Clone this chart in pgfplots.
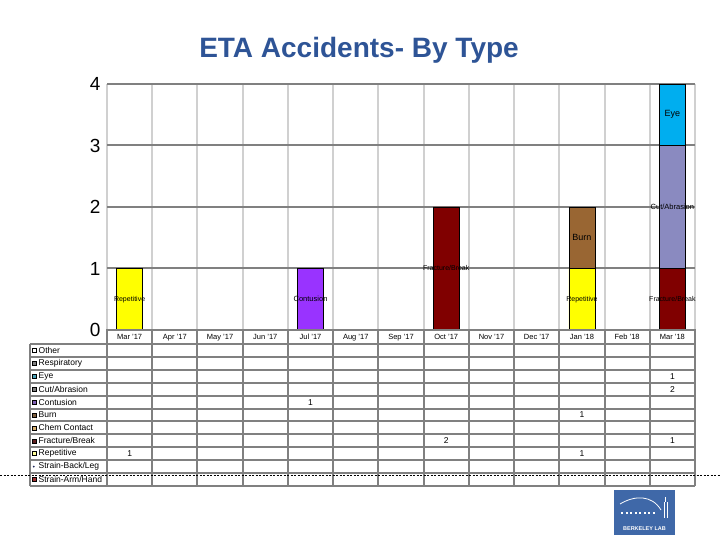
\documentclass[border=0pt]{standalone}
\usepackage{fontspec}
\setmainfont{Liberation Sans}
\usepackage{pgfplots}
\usepackage{pgfplotstable}
\pgfplotsset{compat=1.18}
\definecolor{titleblue}{RGB}{46,84,150}
\definecolor{gridDark}{RGB}{128,128,128}
\definecolor{gridLight}{RGB}{208,208,208}
\definecolor{tableGray}{RGB}{128,128,128}
\definecolor{cRep}{RGB}{255,255,0}
\definecolor{cCont}{RGB}{153,51,255}
\definecolor{cFrac}{RGB}{128,0,0}
\definecolor{cBurn}{RGB}{153,102,51}
\definecolor{cCut}{RGB}{138,138,192}
\definecolor{cEye}{RGB}{0,174,239}
\definecolor{logoblue}{RGB}{63,104,168}
% legend icon colours
\definecolor{lOther}{RGB}{255,255,255}
\definecolor{lResp}{RGB}{128,128,128}
\definecolor{lEye}{RGB}{75,163,184}
\definecolor{lCut}{RGB}{127,127,127}
\definecolor{lCont}{RGB}{127,95,179}
\definecolor{lBurn}{RGB}{127,96,64}
\definecolor{lChem}{RGB}{216,176,112}
\definecolor{lFrac}{RGB}{96,32,32}
\definecolor{lRep}{RGB}{255,255,153}
\definecolor{lSBL}{RGB}{31,40,90}
\definecolor{lSAH}{RGB}{160,48,48}

\pgfplotstableread{
month Rep Frac Burn Cont Cut Eye
0  1 0 0 0 0 0
1  0 0 0 0 0 0
2  0 0 0 0 0 0
3  0 0 0 0 0 0
4  0 0 0 1 0 0
5  0 0 0 0 0 0
6  0 0 0 0 0 0
7  0 2 0 0 0 0
8  0 0 0 0 0 0
9  0 0 0 0 0 0
10 1 0 1 0 0 0
11 0 0 0 0 0 0
12 0 1 0 0 2 1
}\datatable

\begin{document}
\begin{tikzpicture}[x=1pt,y=1pt]
\path[use as bounding box] (0,0) rectangle (720,540);
\node[font=\fontsize{28}{33}\selectfont\bfseries, text=titleblue] at (359,490) {ETA Accidents- By Type};
\begin{axis}[
  at={(107pt,210pt)}, anchor=south west,
  scale only axis, width=588pt, height=246pt,
  xmin=-0.5, xmax=12.5, ymin=0, ymax=4,
  ybar stacked, bar width=26pt,
  xtick={0,...,12},
  xticklabels={Mar '17,Apr '17,May '17,Jun '17,Jul '17,Aug '17,Sep '17,Oct '17,Nov '17,Dec '17,Jan '18,Feb '18,Mar '18},
  xticklabel style={font=\fontsize{7.5}{8}\selectfont, yshift=-0.5pt},
  ytick={0,1,2,3,4},
  yticklabel style={font=\fontsize{19}{19}\selectfont, xshift=-3pt},
  /pgf/number format/assume math mode=true,
  major tick length=0pt, minor tick length=0pt,
  axis line style={draw=none},
  ymajorgrids, major grid style={draw=gridDark, line width=2pt},
  minor xtick={-0.5,0.5,...,12.5}, xminorgrids,
  minor grid style={draw=gridLight, line width=2pt},
  every axis plot/.append style={draw=black, line width=0.6pt},
]
\addplot[fill=cRep]  table[x=month,y=Rep]  {\datatable};
\addplot[fill=cFrac] table[x=month,y=Frac] {\datatable};
\addplot[fill=cBurn] table[x=month,y=Burn] {\datatable};
\addplot[fill=cCont] table[x=month,y=Cont] {\datatable};
\addplot[fill=cCut]  table[x=month,y=Cut]  {\datatable};
\addplot[fill=cEye]  table[x=month,y=Eye]  {\datatable};
\coordinate (L1) at (axis cs:0,0.5);
\coordinate (L2) at (axis cs:4,0.5);
\coordinate (L3) at (axis cs:7,1);
\coordinate (L4) at (axis cs:10,0.5);
\coordinate (L5) at (axis cs:10,1.5);
\coordinate (L6) at (axis cs:12,0.5);
\coordinate (L7) at (axis cs:12,2);
\coordinate (L8) at (axis cs:12,3.5);
\end{axis}
\node[font=\fontsize{7}{8}\selectfont] at (L1) {Repetitive};
\node[font=\fontsize{7.5}{8}\selectfont] at (L2) {Contusion};
\node[font=\fontsize{7}{8}\selectfont] at (L3) {Fracture/Break};
\node[font=\fontsize{7}{8}\selectfont] at (L4) {Repetitive};
\node[font=\fontsize{9}{10}\selectfont] at (L5) {Burn};
\node[font=\fontsize{7}{8}\selectfont] at (L6) {Fracture/Break};
\node[font=\fontsize{7.5}{8}\selectfont] at (L7) {Cut/Abrasion};
\node[font=\fontsize{9}{10}\selectfont] at (L8) {Eye};
% x axis line
\draw[gridDark, line width=2pt] (106,210) -- (696,210);
% data table
\pgfmathsetmacro{\colw}{588/13}
\pgfmathsetmacro{\rowh}{142/11}
\foreach \k in {0,...,13} {
  \draw[tableGray, line width=2pt] ({107+\k*\colw},210) -- ({107+\k*\colw},54);
}
\draw[tableGray, line width=2pt] (30,196) -- (30,54);
\foreach \i in {0,...,11} {
  \draw[tableGray, line width=2pt] (30,{196-\i*\rowh}) -- (695,{196-\i*\rowh});
}
\foreach \name [count=\i from 0] in {Other,Respiratory,Eye,{Cut/Abrasion},Contusion,Burn,Chem Contact,{Fracture/Break},Repetitive,{Strain-Back/Leg},{Strain-Arm/Hand}} {
  \node[font=\fontsize{8.5}{9}\selectfont, anchor=west, inner sep=0pt] at (38.5,{196-(\i+0.5)*\rowh}) {\name};
}
\foreach \col [count=\i from 0] in {lOther,lResp,lEye,lCut,lCont,lBurn,lChem,lFrac,lRep,lSAH} {
  \pgfmathtruncatemacro{\r}{\i<9 ? \i : 10}
  \filldraw[fill=\col, draw=black, line width=0.5pt] (31.8,{196-(\r+0.5)*\rowh-2}) rectangle ++(4,4);
}
\fill[lSBL] (33.8,{196-9.5*\rowh}) circle (1pt);
% table values
\foreach \r/\m/\v in {2/12/1,3/12/2,4/4/1,5/10/1,7/7/2,7/12/1,8/0/1,8/10/1} {
  \node[font=\fontsize{8.5}{9}\selectfont] at ({107+(\m+0.5)*\colw},{196-(\r+0.5)*\rowh}) {\v};
}
% dashed line
\draw[black, line width=0.6pt, dash pattern=on 2pt off 1.5pt] (0,65) -- (720,65);
% logo
\fill[logoblue] (614,5) rectangle (675,50);
\draw[white, line width=0.8pt] (620,36) .. controls (635,45) and (652,45) .. (661,30);
\foreach \j in {0,...,7} { \fill[white] ({621+\j*4.5},26) rectangle ++(2,1.5); }
\draw[white, line width=0.6pt] (664,22) -- (664,38) (667.5,22) -- (667.5,38) (665.7,38) -- (665.7,43);
\node[white, font=\fontsize{5.5}{6}\selectfont\bfseries] at (644.5,11) {BERKELEY LAB};
\end{tikzpicture}
\end{document}
